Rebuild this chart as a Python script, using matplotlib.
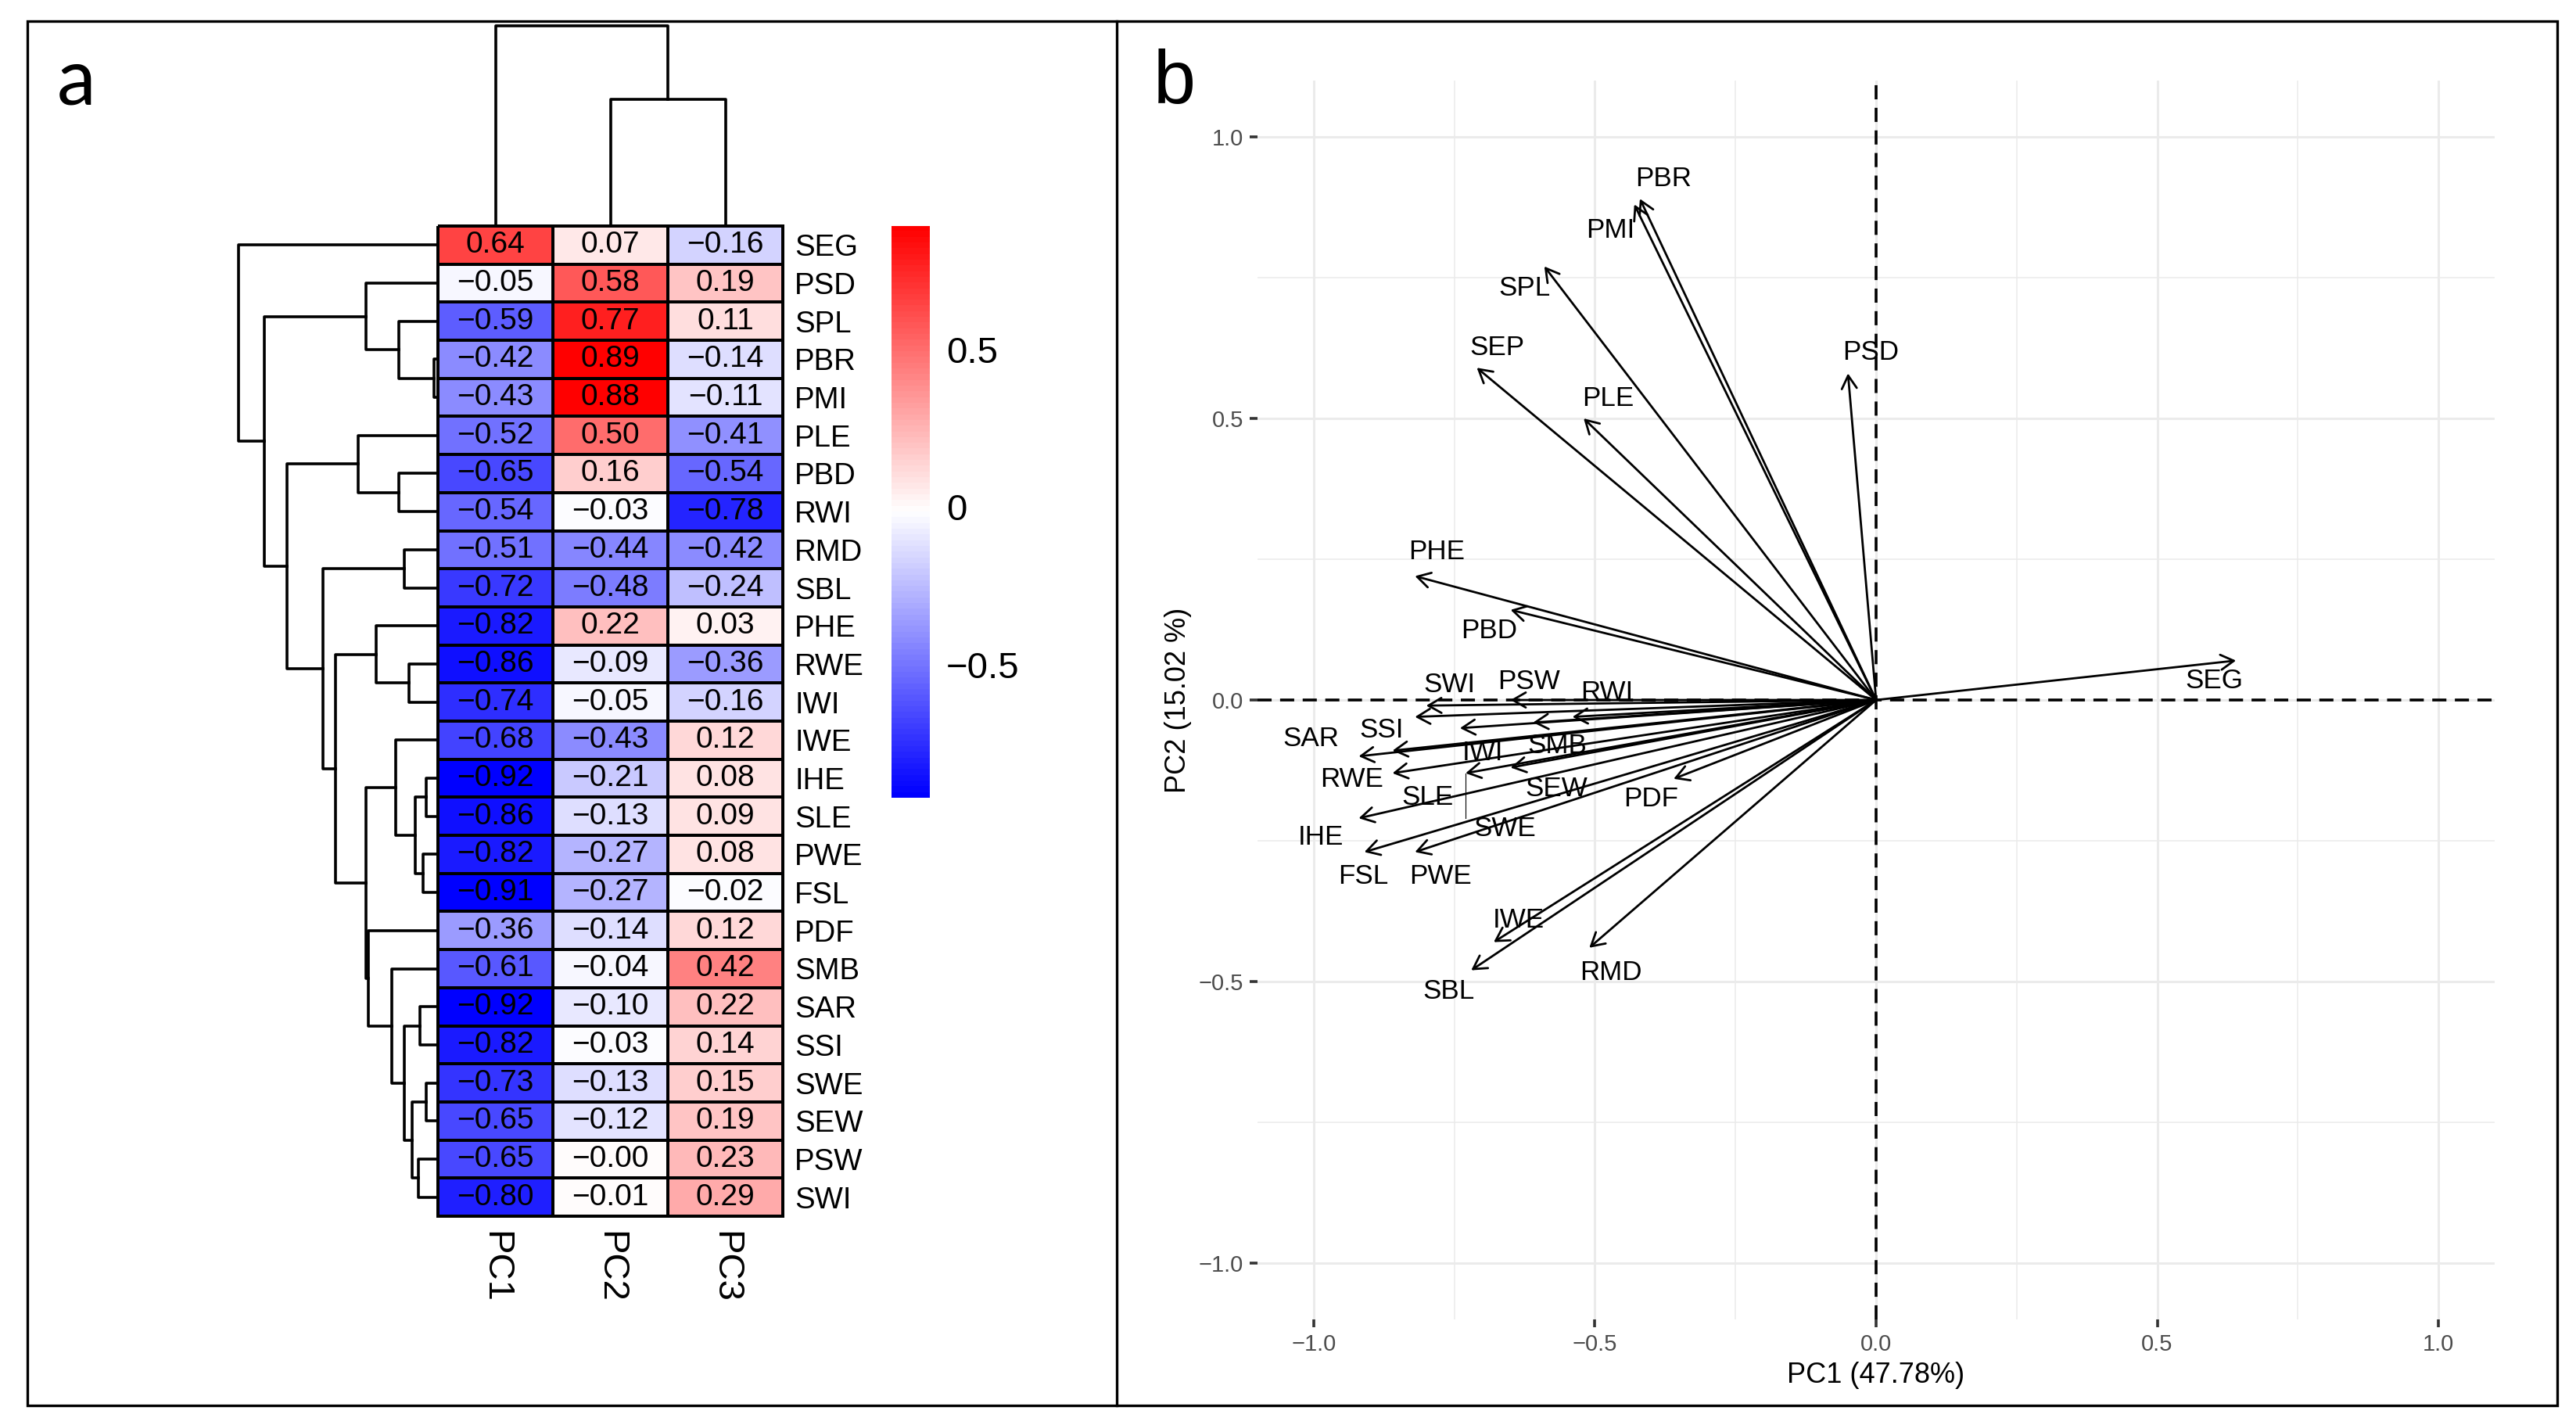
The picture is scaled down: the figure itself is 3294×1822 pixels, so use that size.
import matplotlib
matplotlib.use('Agg')
import matplotlib.pyplot as plt
import numpy as np
from matplotlib.colors import LinearSegmentedColormap, Normalize
from matplotlib.patches import Rectangle
from matplotlib.lines import Line2D
from matplotlib import font_manager

# ---- data ----
traits = ['SEG', 'PSD', 'SPL', 'PBR', 'PMI', 'PLE', 'PBD', 'RWI', 'RMD', 'SBL',
          'PHE', 'RWE', 'IWI', 'IWE', 'IHE', 'SLE', 'PWE', 'FSL', 'PDF', 'SMB',
          'SAR', 'SSI', 'SWE', 'SEW', 'PSW', 'SWI']
pc1 = [0.64, -0.05, -0.59, -0.42, -0.43, -0.52, -0.65, -0.54, -0.51, -0.72,
       -0.82, -0.86, -0.74, -0.68, -0.92, -0.86, -0.82, -0.91, -0.36, -0.61,
       -0.92, -0.82, -0.73, -0.65, -0.65, -0.80]
pc2 = [0.07, 0.58, 0.77, 0.89, 0.88, 0.50, 0.16, -0.03, -0.44, -0.48,
       0.22, -0.09, -0.05, -0.43, -0.21, -0.13, -0.27, -0.27, -0.14, -0.04,
       -0.10, -0.03, -0.13, -0.12, -0.00, -0.01]
pc3 = [-0.16, 0.19, 0.11, -0.14, -0.11, -0.41, -0.54, -0.78, -0.42, -0.24,
       0.03, -0.36, -0.16, 0.12, 0.08, 0.09, 0.08, -0.02, 0.12, 0.42,
       0.22, 0.14, 0.15, 0.19, 0.23, 0.29]
components = ['PC1', 'PC2', 'PC3']

# extra variable only in the biplot
extra_name = ['SEP']
extra_pc1 = [-0.71]
extra_pc2 = [0.59]

# dendrograms: (merge height, left, right)
row_tree = (255, 'SEG',
            (222,
             (92, 'PSD', (50, 'SPL', (5, 'PBR', 'PMI'))),
             (193,
              (102, 'PLE', (50, 'PBD', 'RWI')),
              (147,
               (43, 'RMD', 'SBL'),
               (131,
                (79, 'PHE', (37, 'RWE', 'IWI')),
                (92,
                 (54, 'IWE', (29, (15, 'IHE', 'SLE'), (19, 'PWE', 'FSL'))),
                 (89, 'PDF',
                  (59, 'SMB',
                   (43, (23, 'SAR', 'SSI'),
                    (33, (15, 'SWE', 'SEW'), (25, 'PSW', 'SWI')))))))))))
col_tree = (256, 'PC1', (162, 'PC2', 'PC3'))

pc1_label = 'PC1 (47.78%)'
pc2_label = 'PC2 (15.02 %)'

# ---- style ----
W, H, DPI = 3294, 1822, 200
names = {f.name for f in font_manager.fontManager.ttflist}
FONT = 'Liberation Sans' if 'Liberation Sans' in names else 'DejaVu Sans'
NARROW = 'Liberation Sans Narrow' if 'Liberation Sans Narrow' in names else FONT
LETTER = 'Lato' if 'Lato' in names else FONT
plt.rcParams['font.family'] = [FONT, 'DejaVu Sans']


def rect(x0, y0, x1, y1):
    # pixel box (top-left origin) -> figure fraction
    return [x0 / W, 1 - y1 / H, (x1 - x0) / W, (y1 - y0) / H]


def fmt(v):
    return ('%.2f' % v).replace('-', '\u2212')


def draw_tree(ax, node, pos, side):
    if isinstance(node, str):
        return pos[node], 0.0
    h, a, b = node
    p1, h1 = draw_tree(ax, a, pos, side)
    p2, h2 = draw_tree(ax, b, pos, side)
    if side == 'left':
        ax.plot([h1, h, h, h2], [p1, p1, p2, p2], color='black', lw=1.3)
    else:
        ax.plot([p1, p1, p2, p2], [h1, h, h, h2], color='black', lw=1.3)
    return (p1 + p2) / 2, h


fig = plt.figure(figsize=(W / DPI, H / DPI), dpi=DPI)

# ---- panel a: heatmap ----
vals = np.column_stack([pc1, pc2, pc3])
vmin, vmax = vals.min(), vals.max()
cmap = LinearSegmentedColormap.from_list('bwr_ph', ['#0000FF', '#FFFFFF', '#FF0000'], N=100)
norm = Normalize(vmin=vmin, vmax=vmax)
nrow, ncol = vals.shape

ax = fig.add_axes(rect(560, 289, 1001, 1555))
ax.pcolormesh(np.arange(ncol + 1), np.arange(nrow + 1), vals, cmap=cmap, norm=norm,
              edgecolors='black', linewidth=1.3, clip_on=False)
ax.set_xlim(0, ncol)
ax.set_ylim(nrow, 0)
for i in range(nrow):
    for j in range(ncol):
        ax.text(j + 0.5, i + 0.5, fmt(vals[i, j]), ha='center', va='center',
                fontsize=14, color='black')
ax.yaxis.tick_right()
ax.set_yticks(np.arange(nrow) + 0.5)
ax.set_yticklabels(traits, fontsize=13.8)
ax.set_xticks(np.arange(ncol) + 0.5)
ax.set_xticklabels(components, rotation=-90, fontsize=17, family=NARROW)
ax.tick_params(axis='y', length=0, pad=5.5)
ax.tick_params(axis='x', length=0, pad=7)
for s in ax.spines.values():
    s.set_visible(False)

# row dendrogram
axr = fig.add_axes(rect(296, 289, 560, 1555))
row_pos = {t: i + 0.5 for i, t in enumerate(traits)}
draw_tree(axr, row_tree, row_pos, 'left')
axr.set_xlim(264, 0)
axr.set_ylim(nrow, 0)
axr.axis('off')

# column dendrogram
axc = fig.add_axes(rect(560, 25, 1001, 289))
col_pos = {c: j + 0.5 for j, c in enumerate(components)}
draw_tree(axc, col_tree, col_pos, 'top')
axc.set_xlim(0, ncol)
axc.set_ylim(0, 264)
axc.axis('off')

# colour legend
axl = fig.add_axes(rect(1140, 289, 1189, 1020))
grad = np.linspace(vmax, vmin, 100).reshape(-1, 1)
axl.imshow(grad, cmap=cmap, norm=norm, aspect='auto', extent=[0, 1, vmin, vmax])
axl.set_ylim(vmin, vmax)
axl.set_xticks([])
axl.yaxis.tick_right()
axl.set_yticks([0.5, 0, -0.5])
axl.set_yticklabels(['0.5', '0', '\u22120.5'], fontsize=17)
axl.tick_params(axis='y', length=0, pad=7.5)
for s in axl.spines.values():
    s.set_visible(False)

# ---- panel b: variable biplot ----
bx = fig.add_axes(rect(1608, 103, 3190, 1687))
bx.set_xlim(-1.1, 1.1)
bx.set_ylim(-1.1, 1.1)
major = [-1.0, -0.5, 0.0, 0.5, 1.0]
minor = [-0.75, -0.25, 0.25, 0.75]
bx.set_xticks(major)
bx.set_yticks(major)
bx.set_xticks(minor, minor=True)
bx.set_yticks(minor, minor=True)
tick_txt = [('%.1f' % v).replace('-', '\u2212') for v in major]
bx.set_xticklabels(tick_txt, fontsize=10.5, color='#4D4D4D')
bx.set_yticklabels(tick_txt, fontsize=10.5, color='#4D4D4D')
bx.tick_params(which='major', length=3.5, width=1.3, color='#333333', pad=3)
bx.tick_params(which='minor', length=0)
bx.grid(which='major', color='#EBEBEB', lw=1.1)
bx.grid(which='minor', color='#EBEBEB', lw=0.55)
bx.set_axisbelow(True)
for s in bx.spines.values():
    s.set_visible(False)
bx.axhline(0, color='black', lw=1.3, ls=(0, (5, 3)))
bx.axvline(0, color='black', lw=1.3, ls=(0, (5, 3)))

all_names = traits + extra_name
all_x = pc1 + extra_pc1
all_y = pc2 + extra_pc2
for n, x, y in zip(all_names, all_x, all_y):
    bx.annotate('', xy=(x, y), xytext=(0, 0),
                arrowprops=dict(arrowstyle='->,head_length=0.4,head_width=0.23',
                                lw=1.0, color='black', shrinkA=0, shrinkB=0,
                                mutation_scale=15))

# repelled label positions
label_pos = {
    'PBR': (-0.378, 0.925), 'PMI': (-0.472, 0.834), 'SPL': (-0.625, 0.731),
    'SEP': (-0.674, 0.625), 'PSD': (-0.010, 0.617), 'PLE': (-0.477, 0.535),
    'PHE': (-0.782, 0.263), 'PBD': (-0.688, 0.123), 'SWI': (-0.759, 0.027),
    'PSW': (-0.618, 0.033), 'RWI': (-0.479, 0.013), 'SSI': (-0.880, -0.054),
    'SAR': (-1.005, -0.069), 'SMB': (-0.567, -0.081), 'IWI': (-0.699, -0.094),
    'RWE': (-0.933, -0.141), 'SEW': (-0.568, -0.158), 'SLE': (-0.798, -0.173),
    'PDF': (-0.401, -0.176), 'SWE': (-0.660, -0.229), 'IHE': (-0.987, -0.244),
    'FSL': (-0.912, -0.313), 'PWE': (-0.775, -0.313), 'IWE': (-0.636, -0.391),
    'RMD': (-0.472, -0.484), 'SBL': (-0.760, -0.518), 'SEG': (0.601, 0.034),
}
for n in all_names:
    lx, ly = label_pos[n]
    bx.text(lx, ly, n, ha='center', va='center', fontsize=12.6)
# connector for the displaced SWE label
k = all_names.index('SWE')
bx.plot([all_x[k], all_x[k]], [all_y[k], -0.21], color='black', lw=0.4)

bx.set_xlabel(pc1_label, fontsize=13, labelpad=3)
bx.set_ylabel(pc2_label, fontsize=13, labelpad=3)

# ---- panel frames and letters ----
fig.add_artist(Rectangle((35 / W, 1 - 1797 / H), (3270 - 35) / W, (1797 - 27) / H,
                         fill=False, lw=1.2, color='black', transform=fig.transFigure))
fig.add_artist(Line2D([1428 / W, 1428 / W], [1 - 1797 / H, 1 - 27 / H],
                      lw=1.2, color='black', transform=fig.transFigure))
fig.text(73 / W, 1 - 133 / H, 'a', fontsize=36, family=LETTER, va='baseline')
fig.text(1475 / W, 1 - 132 / H, 'b', fontsize=35, va='baseline')

fig.savefig('out.png', dpi=DPI)
